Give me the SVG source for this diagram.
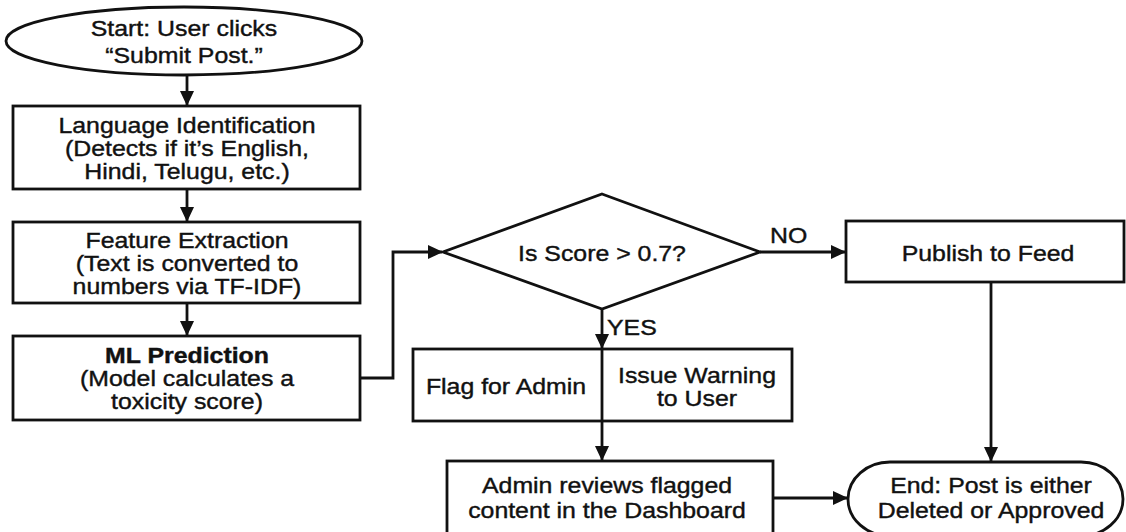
<svg xmlns="http://www.w3.org/2000/svg" width="1126" height="532" viewBox="0 0 1126 532">
<style>
.s{fill:#fff;stroke:#111;stroke-width:2.8}
.c{fill:none;stroke:#111;stroke-width:2.8}
.t{font-family:"Liberation Sans",Arial,Helvetica,sans-serif;font-size:22px;fill:#111;stroke:#111;stroke-width:0.4;text-anchor:middle}
.b{font-weight:bold}
.l{font-family:"Liberation Sans",Arial,Helvetica,sans-serif;font-size:22px;fill:#111;stroke:#111;stroke-width:0.4}
</style>
<defs>
<marker id="ah" markerUnits="userSpaceOnUse" markerWidth="15" markerHeight="14" refX="14" refY="7" orient="auto">
<path d="M0,0 L15,7 L0,14 z" fill="#111"/>
</marker>
</defs>
<rect width="1126" height="532" fill="#fff"/>
<g id="connectors">
<line class="c" x1="187" y1="75" x2="187" y2="105" marker-end="url(#ah)"/>
<line class="c" x1="187" y1="189" x2="187" y2="221" marker-end="url(#ah)"/>
<line class="c" x1="187" y1="303" x2="187" y2="335" marker-end="url(#ah)"/>
<polyline class="c" points="360,378 393,378 393,252 442,252" marker-end="url(#ah)"/>
<line class="c" x1="760" y1="252" x2="845" y2="252" marker-end="url(#ah)"/>
<line class="c" x1="602" y1="309" x2="602" y2="348" marker-end="url(#ah)"/>
<line class="c" x1="602" y1="421" x2="602" y2="460" marker-end="url(#ah)"/>
<line class="c" x1="991" y1="282" x2="991" y2="461" marker-end="url(#ah)"/>
<line class="c" x1="773" y1="498" x2="847" y2="498" marker-end="url(#ah)"/>
<text class="l" transform="translate(770 243) scale(1.13 1)">NO</text>
<text class="l" transform="translate(607 335) scale(1.13 1)">YES</text>
</g>
<g id="start">
<ellipse class="s" cx="184" cy="41" rx="178" ry="34"/>
<text class="t" transform="translate(184 36) scale(1.13 1)"><tspan x="0" y="0">Start: User clicks</tspan><tspan x="0" y="27">“Submit Post.”</tspan></text>
</g>
<g id="lang">
<rect class="s" x="13" y="106" width="347" height="83"/>
<text class="t" transform="translate(187 133) scale(1.13 1)"><tspan x="0" y="0">Language Identification</tspan><tspan x="0" y="23">(Detects if it’s English,</tspan><tspan x="0" y="46">Hindi, Telugu, etc.)</tspan></text>
</g>
<g id="feature">
<rect class="s" x="13" y="222" width="347" height="81"/>
<text class="t" transform="translate(187 248) scale(1.13 1)"><tspan x="0" y="0">Feature Extraction</tspan><tspan x="0" y="23">(Text is converted to</tspan><tspan x="0" y="46">numbers via TF-IDF)</tspan></text>
</g>
<g id="ml">
<rect class="s" x="13" y="336" width="347" height="84"/>
<text class="t" transform="translate(187 363) scale(1.13 1)"><tspan x="0" y="0" class="b">ML Prediction</tspan><tspan x="0" y="23">(Model calculates a</tspan><tspan x="0" y="46">toxicity score)</tspan></text>
</g>
<g id="decision">
<polygon class="s" points="602,194 760,252 602,309 443,252"/>
<text class="t" transform="translate(602 261) scale(1.13 1)">Is Score &gt; 0.7?</text>
</g>
<g id="publish">
<rect class="s" x="846" y="221" width="278" height="61"/>
<text class="t" transform="translate(988 261) scale(1.13 1)">Publish to Feed</text>
</g>
<g id="flag">
<rect class="s" x="413" y="349" width="379" height="72"/>
<line class="c" x1="602" y1="349" x2="602" y2="421"/>
<text class="t" transform="translate(506 394) scale(1.13 1)">Flag for Admin</text>
<text class="t" transform="translate(697 383) scale(1.13 1)"><tspan x="0" y="0">Issue Warning</tspan><tspan x="0" y="23">to User</tspan></text>
</g>
<g id="review">
<rect class="s" x="447" y="461" width="326" height="76"/>
<text class="t" transform="translate(607 493) scale(1.13 1)"><tspan x="0" y="0">Admin reviews flagged</tspan><tspan x="0" y="25">content in the Dashboard</tspan></text>
</g>
<g id="end">
<rect class="s" x="848" y="462" width="275" height="74" rx="42" ry="37"/>
<text class="t" transform="translate(991 493) scale(1.13 1)"><tspan x="0" y="0">End: Post is either</tspan><tspan x="0" y="25">Deleted or Approved</tspan></text>
</g>
</svg>
